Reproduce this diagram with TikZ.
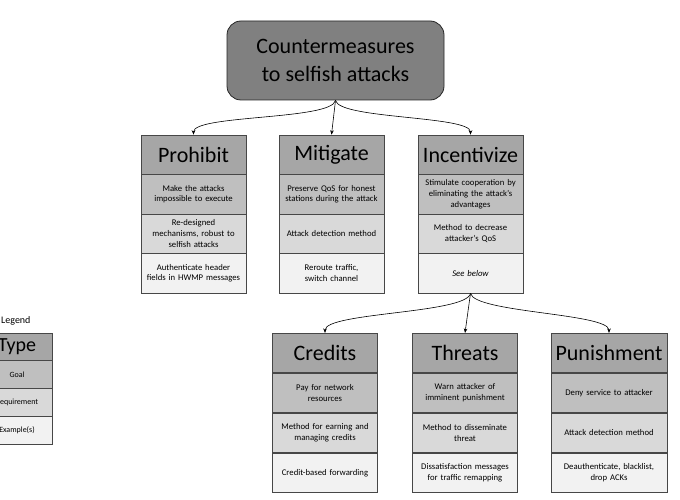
\documentclass[tikz,border=0pt]{standalone}
\usepackage{fontspec}
\setmainfont{Carlito}
\usetikzlibrary{arrows.meta}
\definecolor{cmTitle}{HTML}{808080}
\definecolor{cmHeader}{HTML}{A6A6A6}
\definecolor{cmGoal}{HTML}{BFBFBF}
\definecolor{cmReq}{HTML}{D9D9D9}
\definecolor{cmExample}{HTML}{F2F2F2}
\definecolor{cmInk}{HTML}{262626}
\tikzset{
    cm/title/.style={
        rectangle, rounded corners=14pt,
        draw=cmInk, fill=cmTitle, line width=0.8pt,
        minimum width=217pt, minimum height=79pt,
        align=center, inner sep=0pt,
        font=\fontsize{22}{28}\selectfont
    },
    cm/cell/.style={
        rectangle, draw=cmInk!85, line width=0.6pt,
        align=center, inner xsep=3pt, inner ysep=1pt,
        text width=99pt, minimum height=39.5pt,
        font=\fontsize{8.7}{10.8}\selectfont
    },
    cm/header/.style={
        cm/cell, fill=cmHeader, font=\fontsize{22}{26}\selectfont
    },
    cm/goal/.style={cm/cell, fill=cmGoal},
    cm/requirement/.style={cm/cell, fill=cmReq},
    cm/example/.style={cm/cell, fill=cmExample},
    cm/wide/.style={text width=110pt},
    cm/legend/.style={
        text width=64pt, minimum height=27.75pt,
        font=\fontsize{8}{10}\selectfont
    },
    cm/arrow/.style={
        draw=black, line width=0.6pt,
        -{Stealth[length=4.5pt,width=3.6pt]}
    },
    cm/branch/.style={cm/arrow, looseness=0.35}
}

\begin{document}
\begin{tikzpicture}[x=1pt, y=1pt]
    \useasboundingbox (0,0) rectangle (680,-500);
    \clip (0,0) rectangle (680,-500);

    \node[cm/title] (title) at (335.5,-60.5)
        {Countermeasures\\to selfish attacks};

    % upper row
    \node[cm/header] (prohibit) at (193.5,-154.75) {Prohibit};
    \node[cm/goal] (prohibitgoal) at (193.5,-194.25)
        {Make the attacks\\impossible to execute};
    \node[cm/requirement] (prohibitreq) at (193.5,-233.75)
        {Re-designed\\mechanisms, robust to\\selfish attacks};
    \node[cm/example] (prohibitex) at (193.5,-273.25)
        {Authenticate header\\fields in HWMP messages};

    \node[cm/header] (mitigate) at (331.5,-154.75) {Mitigate};
    \node[cm/goal] (mitigategoal) at (331.5,-194.25)
        {Preserve QoS for honest\\stations during the attack};
    \node[cm/requirement] (mitigatereq) at (331.5,-233.75)
        {Attack detection method};
    \node[cm/example] (mitigateex) at (331.5,-273.25)
        {Reroute traffic,\\switch channel};

    \node[cm/header] (incentivize) at (470.5,-154.75) {Incentivize};
    \node[cm/goal] (incentivizegoal) at (470.5,-194.25)
        {Stimulate cooperation by\\eliminating the attack's\\advantages};
    \node[cm/requirement] (incentivizereq) at (470.5,-233.75)
        {Method to decrease\\attacker's QoS};
    \node[cm/example] (incentivizeex) at (470.5,-273.25)
        {\itshape See below};

    % lower row
    \node[cm/header] (credits) at (325,-353) {Credits};
    \node[cm/goal] (creditsgoal) at (325,-393)
        {Pay for network\\resources};
    \node[cm/requirement] (creditsreq) at (325,-433)
        {Method for earning and\\managing credits};
    \node[cm/example] (creditsex) at (325,-473)
        {Credit-based forwarding};

    \node[cm/header] (threats) at (465,-353) {Threats};
    \node[cm/goal] (threatsgoal) at (465,-393)
        {Warn attacker of\\imminent punishment};
    \node[cm/requirement] (threatsreq) at (465,-433)
        {Method to disseminate\\threat};
    \node[cm/example] (threatsex) at (465,-473)
        {Dissatisfaction messages\\for traffic remapping};

    \node[cm/header, cm/wide] (punishment) at (609,-353) {Punishment};
    \node[cm/goal, cm/wide] (punishmentgoal) at (609,-393)
        {Deny service to attacker};
    \node[cm/requirement, cm/wide] (punishmentreq) at (609,-433)
        {Attack detection method};
    \node[cm/example, cm/wide] (punishmentex) at (609,-473)
        {Deauthenticate, blacklist,\\drop ACKs};

    % legend
    \node[anchor=west, inner sep=0pt, font=\fontsize{10}{12}\selectfont]
        (legendlabel) at (1,-321) {Legend};
    \node[cm/header, cm/legend, font=\fontsize{20}{24}\selectfont]
        (legendtype) at (17,-346.9) {Type};
    \node[cm/goal, cm/legend] (legendgoal) at (17,-374.6) {Goal};
    \node[cm/requirement, cm/legend] (legendreq) at (17,-402.4)
        {Requirement};
    \node[cm/example, cm/legend] (legendex) at (17,-430.1)
        {Example(s)};

    % connectors
    \draw[cm/branch] (title.south) to[out=-100, in=90] (prohibit.north);
    \draw[cm/arrow] (title.south) -- (mitigate.north);
    \draw[cm/branch] (title.south) to[out=-80, in=90] (incentivize.north);

    \draw[cm/branch] (incentivizeex.south) to[out=-100, in=90] (credits.north);
    \draw[cm/arrow] (incentivizeex.south) -- (threats.north);
    \draw[cm/branch] (incentivizeex.south) to[out=-80, in=90] (punishment.north);
\end{tikzpicture}
\end{document}
